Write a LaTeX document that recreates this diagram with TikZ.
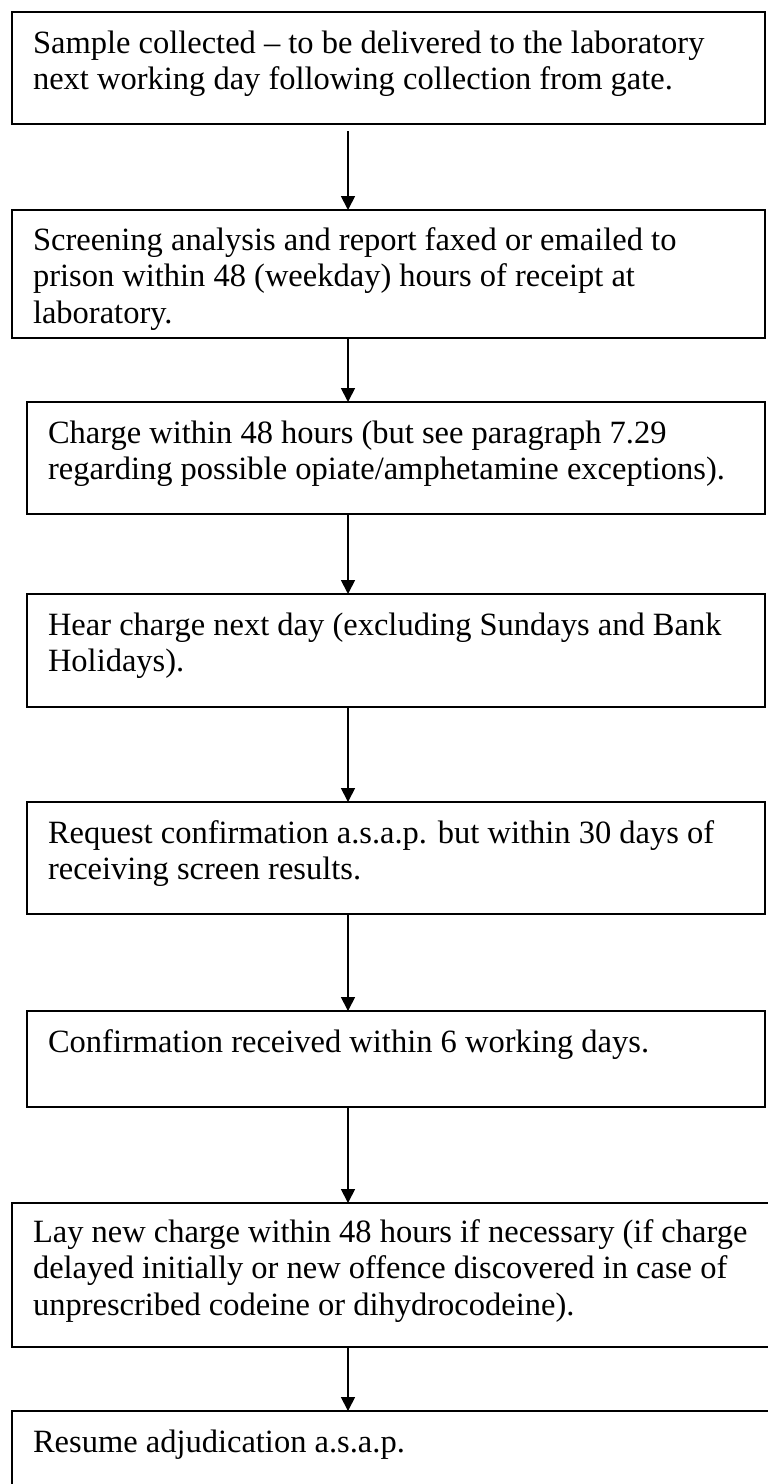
\documentclass[tikz,border=0pt]{standalone}
\usepackage{fontspec}
\setmainfont{Liberation Serif}
\usetikzlibrary{arrows.meta,calc}
\begin{document}
\begin{tikzpicture}[x=1pt,y=-1pt,
  box/.style={draw,line width=1.5pt,inner sep=0pt,outer sep=0pt,anchor=north west},
  txt/.style={anchor=north west,inner sep=0pt,outer sep=0pt,align=left,
    font=\fontsize{32.5pt}{36.8pt}\selectfont},
  arr/.style={line width=1.8pt,-{Triangle[length=14pt,width=14pt]}}]
\useasboundingbox (0,0) rectangle (768,1484);
\clip (0,0) rectangle (768,1484);
\coordinate (ax) at (348,0);
% boxes
\node[box,minimum width=753pt,minimum height=112pt] (b1) at (12,12) {};
\node[box,minimum width=753pt,minimum height=128pt] (b2) at (12,210) {};
\node[box,minimum width=738pt,minimum height=112pt] (b3) at (27,402) {};
\node[box,minimum width=738pt,minimum height=113pt] (b4) at (27,594) {};
\node[box,minimum width=738pt,minimum height=112pt] (b5) at (27,802) {};
\node[box,minimum width=738pt,minimum height=96pt] (b6) at (27,1011) {};
\node[box,minimum width=770pt,minimum height=144pt] (b7) at (12,1203) {};
\node[box,minimum width=770pt,minimum height=95pt] (b8) at (12,1411) {};
% texts
\node[txt] (t1) at ($(b1.north west)+(21,16)$) {\rule{0pt}{25pt}Sample collected – to be delivered to the laboratory\\next working day following collection from gate.};
\node[txt] (t2) at ($(b2.north west)+(21,15)$) {\rule{0pt}{25pt}Screening analysis and report faxed or emailed to\\prison within 48 (weekday) hours of receipt at\\laboratory.};
\node[txt] (t3) at ($(b3.north west)+(21,16)$) {\rule{0pt}{25pt}Charge within 48 hours (but see paragraph 7.29\\regarding possible opiate/amphetamine exceptions).};
\node[txt] (t4) at ($(b4.north west)+(21,16)$) {\rule{0pt}{25pt}Hear charge next day (excluding Sundays and Bank\\Holidays).};
\node[txt] (t5) at ($(b5.north west)+(21,16)$) {\rule{0pt}{25pt}Request confirmation a.s.a.p. but within 30 days of\\receiving screen results.};
\node[txt] (t6) at ($(b6.north west)+(21,16)$) {\rule{0pt}{25pt}Confirmation received within 6 working days.};
\node[txt] (t7) at ($(b7.north west)+(21,14)$) {\rule{0pt}{25pt}Lay new charge within 48 hours if necessary (if charge\\delayed initially or new offence discovered in case of\\unprescribed codeine or dihydrocodeine).};
\node[txt] (t8) at ($(b8.north west)+(21,16)$) {\rule{0pt}{25pt}Resume adjudication a.s.a.p.};
% arrows
\draw[arr] ($(b1.south -| ax)+(0,7)$) -- (b2.north -| ax);
\draw[arr] (b2.south -| ax) -- (b3.north -| ax);
\draw[arr] (b3.south -| ax) -- (b4.north -| ax);
\draw[arr] (b4.south -| ax) -- (b5.north -| ax);
\draw[arr] (b5.south -| ax) -- (b6.north -| ax);
\draw[arr] (b6.south -| ax) -- (b7.north -| ax);
\draw[arr] (b7.south -| ax) -- (b8.north -| ax);
\end{tikzpicture}
\end{document}
